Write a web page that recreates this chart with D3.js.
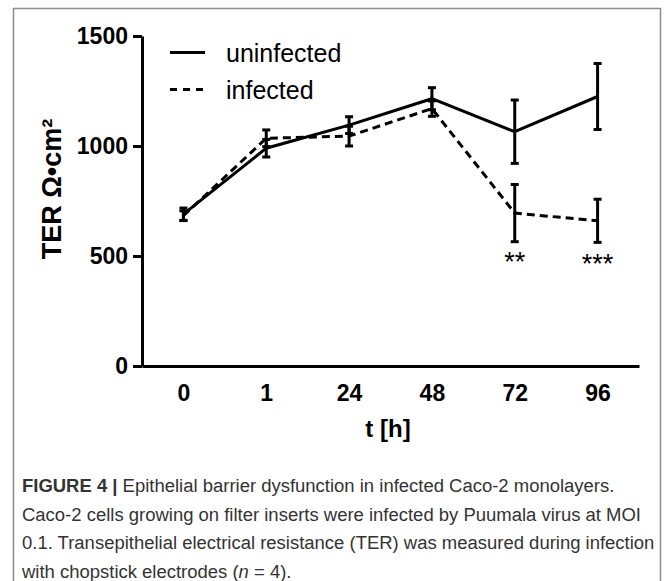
<!DOCTYPE html>
<html>
<head>
<meta charset="utf-8">
<script src="https://cdn.jsdelivr.net/npm/d3@7"></script>
<style>
  body { margin: 0; background: #fff; }
  svg { display: block; font-family: "Liberation Sans", Arial, sans-serif; }
</style>
</head>
<body>
<div id="chart"></div>
<script>
// values
const times = ["0", "1", "24", "48", "72", "96"];
const uninfected = [690, 990, 1095, 1215, 1065, 1225];
const uninfectedErr = [28, 40, 38, 50, 144, 150];
const infected = [683, 1035, 1045, 1170, 695, 660];
const infectedErr = [22, 38, 45, 35, 130, 98];
const stars = ["", "", "", "", "**", "***"];
const yTicks = [0, 500, 1000, 1500];
const captionLines = [
  ["FIGURE 4 |", " Epithelial barrier dysfunction in infected Caco-2 monolayers."],
  ["", "Caco-2 cells growing on filter inserts were infected by Puumala virus at MOI"],
  ["", "0.1. Transepithelial electrical resistance (TER) was measured during infection"],
  ["", "with chopstick electrodes (", "n", " = 4)."]
];

const width = 669, height = 581;
const svg = d3.select("#chart").append("svg")
  .attr("width", width).attr("height", height);

// outer frame (runs off the bottom)
svg.append("rect")
  .attr("x", 13.5).attr("y", 8.5).attr("width", 647).attr("height", 620)
  .attr("fill", "none").attr("stroke", "#8c8c8c").attr("stroke-width", 1.5);

const x = d3.scalePoint().domain(times).range([142, 639]).padding(0.5);
const y = d3.scaleLinear().domain([0, 1500]).range([366, 36]);

// axes
const yAxis = svg.append("g").attr("transform", "translate(142,0)")
  .call(d3.axisLeft(y).tickValues(yTicks).tickFormat(d3.format("d"))
    .tickSize(9).tickSizeOuter(0).tickPadding(5));
const xAxis = svg.append("g").attr("transform", "translate(0,366)")
  .call(d3.axisBottom(x).tickSize(0).tickSizeOuter(0).tickPadding(19));

[yAxis, xAxis].forEach(a => {
  a.select(".domain").attr("stroke", "#000").attr("stroke-width", 3);
  a.selectAll(".tick line").attr("stroke", "#000").attr("stroke-width", 3);
  a.selectAll(".tick text").attr("fill", "#000")
    .style("font-size", "23px").style("font-weight", "bold")
    .style("font-family", "'Liberation Sans', Arial, sans-serif");
});

// axis titles
svg.append("text")
  .attr("transform", "translate(61,189) rotate(-90)")
  .attr("text-anchor", "middle")
  .style("font-size", "27px").style("font-weight", "bold")
  .text("TER Ω•cm²");

svg.append("text")
  .attr("x", 388).attr("y", 437)
  .attr("text-anchor", "middle")
  .style("font-size", "24px").style("font-weight", "bold")
  .text("t [h]");

// series
const series = [
  { name: "uninfected", values: uninfected, err: uninfectedErr, dash: null },
  { name: "infected", values: infected, err: infectedErr, dash: "8,5" }
];

const line = d3.line().x((d, i) => x(times[i])).y(d => y(d));

svg.append("g").selectAll("path").data(series).join("path")
  .attr("fill", "none").attr("stroke", "#000").attr("stroke-width", 3)
  .attr("stroke-dasharray", d => d.dash)
  .attr("d", d => line(d.values));

// error bars
const bars = series.flatMap(s => s.values.map((v, i) => ({ t: times[i], v: v, e: s.err[i] })));
const eb = svg.append("g").selectAll("g").data(bars).join("g")
  .attr("stroke", "#000").attr("stroke-width", 3);
eb.append("line")
  .attr("x1", d => x(d.t)).attr("x2", d => x(d.t))
  .attr("y1", d => y(d.v - d.e)).attr("y2", d => y(d.v + d.e));
eb.append("line")
  .attr("x1", d => x(d.t) - 4).attr("x2", d => x(d.t) + 4)
  .attr("y1", d => y(d.v + d.e)).attr("y2", d => y(d.v + d.e));
eb.append("line")
  .attr("x1", d => x(d.t) - 4).attr("x2", d => x(d.t) + 4)
  .attr("y1", d => y(d.v - d.e)).attr("y2", d => y(d.v - d.e));

// significance marks under the infected bars
svg.append("g").selectAll("text").data(stars).join("text")
  .attr("x", (d, i) => x(times[i]))
  .attr("y", (d, i) => y(infected[i] - infectedErr[i]) + 29 + (d.length > 2 ? 2 : 0))
  .attr("text-anchor", "middle")
  .style("font-size", "27px")
  .text(d => d);

// legend
const legend = svg.append("g");
series.forEach((s, i) => {
  const ly = 52.5 + i * 37;
  legend.append("line")
    .attr("x1", 170).attr("x2", 205).attr("y1", ly).attr("y2", ly)
    .attr("stroke", "#000").attr("stroke-width", 3)
    .attr("stroke-dasharray", s.dash ? "7,6" : null);
  legend.append("text")
    .attr("x", 226).attr("y", ly + 9)
    .style("font-size", "25px")
    .text(s.name);
});

// caption
const cap = svg.append("g").attr("fill", "#333").style("font-size", "18px");
const capTexts = captionLines.map((parts, i) => {
  const t = cap.append("text").attr("x", 22).attr("y", 492 + i * 28.5);
  parts.forEach((p, j) => {
    if (!p) return;
    const ts = t.append("tspan").text(p);
    if (i === 0 && j === 0) ts.style("font-weight", "bold");
    if (i === 3 && j === 2) ts.style("font-style", "italic");
  });
  return t;
});
// squeeze to the narrow caption face, same factor for every line
const k = 619 / capTexts[1].node().getComputedTextLength();
capTexts.forEach(t => {
  const w = t.node().getComputedTextLength();
  t.attr("textLength", w * k).attr("lengthAdjust", "spacingAndGlyphs");
});
</script>
</body>
</html>
